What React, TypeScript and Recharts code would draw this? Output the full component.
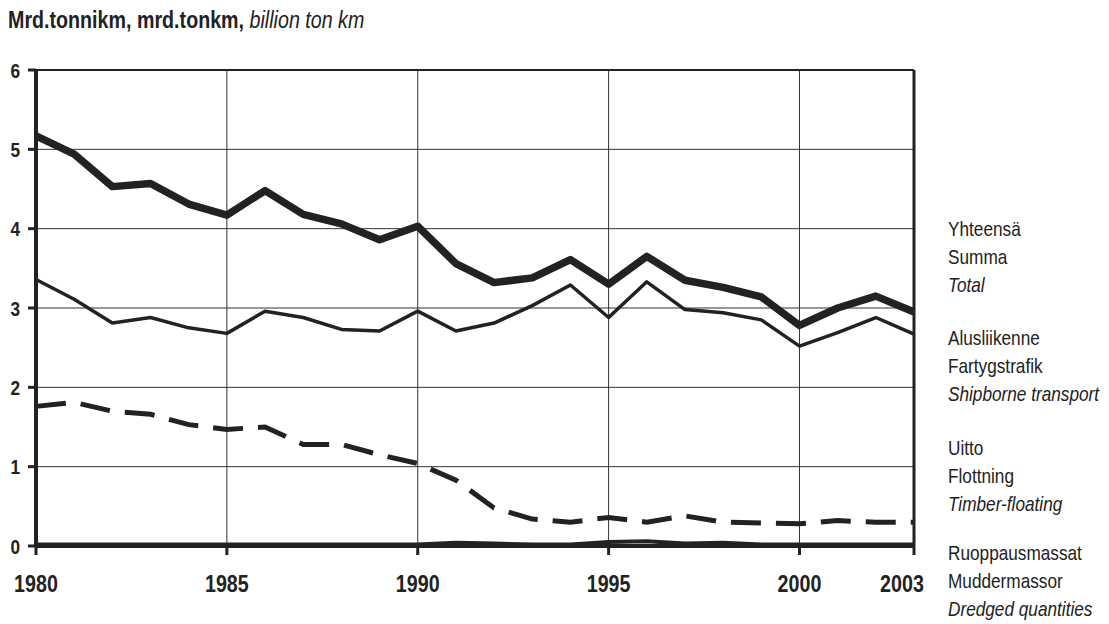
import React from 'react';
import { LineChart, Line, XAxis, YAxis, CartesianGrid, ReferenceLine } from 'recharts';

const years = [1980, 1981, 1982, 1983, 1984, 1985, 1986, 1987, 1988, 1989, 1990, 1991, 1992, 1993, 1994, 1995, 1996, 1997, 1998, 1999, 2000, 2001, 2002, 2003];
const total = [5.17, 4.94, 4.53, 4.57, 4.31, 4.17, 4.48, 4.18, 4.06, 3.86, 4.03, 3.56, 3.32, 3.38, 3.61, 3.3, 3.65, 3.35, 3.26, 3.14, 2.78, 3.0, 3.15, 2.95];
const shipborne = [3.36, 3.11, 2.81, 2.88, 2.75, 2.68, 2.96, 2.88, 2.73, 2.71, 2.96, 2.71, 2.81, 3.03, 3.29, 2.88, 3.33, 2.98, 2.94, 2.85, 2.52, 2.69, 2.88, 2.67];
const timber = [1.76, 1.81, 1.7, 1.66, 1.53, 1.47, 1.5, 1.28, 1.28, 1.15, 1.04, 0.83, 0.48, 0.34, 0.3, 0.36, 0.3, 0.38, 0.3, 0.29, 0.28, 0.32, 0.3, 0.3];
const dredged = [0.02, 0.02, 0.02, 0.02, 0.02, 0.02, 0.02, 0.02, 0.02, 0.02, 0.02, 0.04, 0.03, 0.02, 0.02, 0.05, 0.06, 0.03, 0.04, 0.02, 0.02, 0.02, 0.02, 0.02];

const xTicks = [1980, 1985, 1990, 1995, 2000, 2003];
const yTicks = [0, 1, 2, 3, 4, 5, 6];

const legendGroups = [
  ['Yhteensä', 'Summa', 'Total'],
  ['Alusliikenne', 'Fartygstrafik', 'Shipborne transport'],
  ['Uitto', 'Flottning', 'Timber-floating'],
  ['Ruoppausmassat', 'Muddermassor', 'Dredged quantities'],
];
const legendTops = [236, 345, 455, 560];

const data = years.map((year, i) => ({
  year,
  total: total[i],
  shipborne: shipborne[i],
  timber: timber[i],
  dredged: dredged[i],
}));

// no narrow font installed, so squeeze Liberation Sans horizontally
const FONT = "'Liberation Sans', Arial, sans-serif";
const NARROW = 0.82;
const INK = '#222';

function XTick(props: any) {
  const { x, y, payload } = props;
  const shift = payload.value === 2003 ? -12 : 0;
  return (
    <text
      transform={`translate(${x + shift},${y + 35}) scale(${NARROW},1)`}
      textAnchor="middle"
      fontFamily={FONT}
      fontWeight="bold"
      fontSize={24}
      fill={INK}
    >
      {payload.value}
    </text>
  );
}

function YTick(props: any) {
  const { x, y, payload } = props;
  return (
    <text
      transform={`translate(${x - 6},${y + 7.5}) scale(${NARROW},1)`}
      textAnchor="end"
      fontFamily={FONT}
      fontWeight="bold"
      fontSize={21}
      fill={INK}
    >
      {payload.value}
    </text>
  );
}

export default function App() {
  return (
    <div style={{ position: 'absolute', left: 0, top: 0, width: 1109, height: 624, background: '#fff' }}>
      <LineChart width={1109} height={624} data={data} margin={{ top: 70, right: 195, left: 0, bottom: 0 }}>
        <CartesianGrid stroke="#333" strokeWidth={1} />
        <XAxis
          dataKey="year"
          type="number"
          domain={[1980, 2003]}
          ticks={xTicks}
          height={78}
          tick={<XTick />}
          tickSize={9}
          tickLine={{ stroke: INK, strokeWidth: 3 }}
          axisLine={{ stroke: INK, strokeWidth: 4 }}
        />
        <YAxis
          domain={[0, 6]}
          ticks={yTicks}
          width={36}
          tick={<YTick />}
          tickSize={8}
          tickLine={{ stroke: INK, strokeWidth: 3 }}
          axisLine={{ stroke: INK, strokeWidth: 4 }}
        />
        <ReferenceLine y={6} stroke={INK} strokeWidth={2} />
        <ReferenceLine x={2003} stroke={INK} strokeWidth={3} />
        <Line type="linear" dataKey="dredged" stroke={INK} strokeWidth={4} dot={false} isAnimationActive={false} />
        <Line
          type="linear"
          dataKey="timber"
          stroke={INK}
          strokeWidth={5}
          strokeDasharray="30 15"
          dot={false}
          isAnimationActive={false}
        />
        <Line
          type="linear"
          dataKey="shipborne"
          stroke={INK}
          strokeWidth={3.5}
          strokeLinejoin="round"
          dot={false}
          isAnimationActive={false}
        />
        <Line
          type="linear"
          dataKey="total"
          stroke={INK}
          strokeWidth={7.5}
          strokeLinejoin="round"
          dot={false}
          isAnimationActive={false}
        />
      </LineChart>
      <svg width={1109} height={624} style={{ position: 'absolute', left: 0, top: 0, pointerEvents: 'none' }}>
        <text transform={`translate(8,28) scale(${NARROW},1)`} fontFamily={FONT} fontSize={24} fill={INK}>
          <tspan fontWeight="bold">Mrd.tonnikm, mrd.tonkm, </tspan>
          <tspan fontStyle="italic">billion ton km</tspan>
        </text>
        {legendGroups.map((group, g) =>
          group.map((label, i) => (
            <text
              key={label}
              transform={`translate(948,${legendTops[g] + i * 28}) scale(${NARROW},1)`}
              fontFamily={FONT}
              fontSize={21}
              fontStyle={i === 2 ? 'italic' : 'normal'}
              fill={INK}
            >
              {label}
            </text>
          ))
        )}
      </svg>
    </div>
  );
}
